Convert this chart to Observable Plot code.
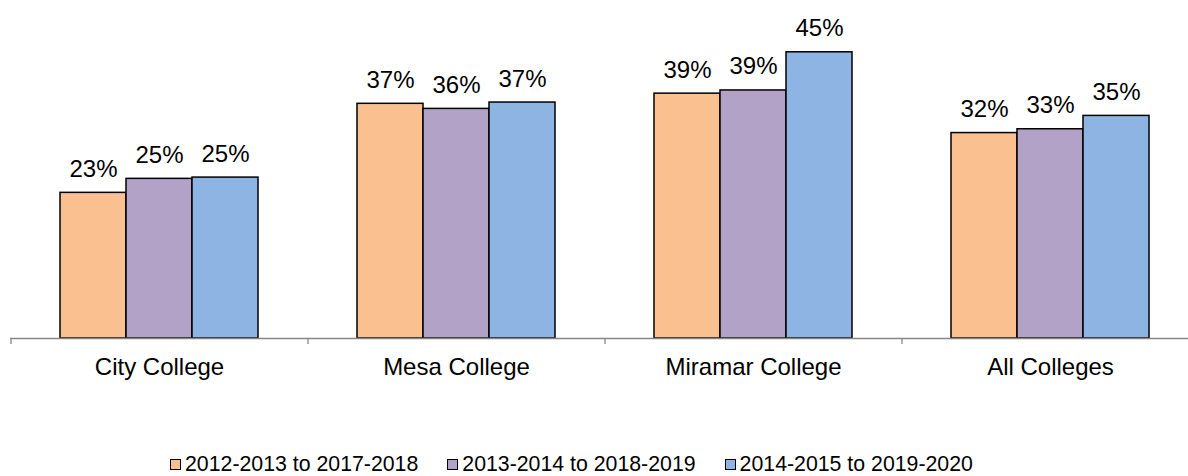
<!DOCTYPE html>
<html>
<head>
<meta charset="utf-8">
<script src="https://cdn.jsdelivr.net/npm/d3@7"></script>
<script src="https://cdn.jsdelivr.net/npm/@observablehq/plot@0.6"></script>
<style>
  html, body { margin: 0; padding: 0; background: #fff; }
  #chart svg { display: block; }
  #legend {
    height: 56px; box-sizing: border-box; padding-top: 33px; padding-left: 170px;
    display: flex; align-items: center; gap: 29px;
    font-family: "Liberation Sans", Arial, sans-serif; font-size: 21.3px; line-height: 1; color: #000;
  }
  .item { display: flex; align-items: center; gap: 4px; white-space: nowrap; }
  .sw { width: 9px; height: 9px; border: 1px solid #000; }
</style>
</head>
<body>
<div id="chart"></div>
<div id="legend"></div>
<script>
const categories = ["City College", "Mesa College", "Miramar College", "All Colleges"];
const seriesNames = ["2012-2013 to 2017-2018", "2013-2014 to 2018-2019", "2014-2015 to 2019-2020"];
const cohort1 = [22.9, 36.9, 38.5, 32.3];
const cohort2 = [25.1, 36.1, 39.0, 32.9];
const cohort3 = [25.3, 37.1, 45.0, 35.0];
const colors = ["#FAC090", "#B3A2C7", "#8EB4E3"];

const seriesValues = [cohort1, cohort2, cohort3];
const rows = [];
seriesValues.forEach((vals, s) => vals.forEach((v, i) => rows.push({category: categories[i], series: seriesNames[s], s, value: v})));

const step = 297;
const bw = step * 2 / 3;
const sub = bw / 3;
const font = "'Liberation Sans', Arial, sans-serif";

const marks = [];
seriesNames.forEach((name, s) => {
  const d = rows.filter(r => r.s === s);
  marks.push(Plot.barY(d, {
    x: "category", y: "value", fill: colors[s], stroke: "#000", strokeWidth: 1.5,
    insetLeft: s * sub, insetRight: (2 - s) * sub
  }));
  marks.push(Plot.text(d, {
    x: "category", y: "value", text: r => Math.round(r.value) + "%",
    dx: (s - 1) * sub, dy: -16, lineAnchor: "bottom", fontSize: 24, fill: "#000"
  }));
});
marks.push(Plot.ruleY([0], {stroke: "#868686", strokeWidth: 1.3}));
marks.push(Plot.ruleX(categories, {x: d => d, dx: -step / 2, y1: 0, y2: 0, insetBottom: -6, stroke: "#868686", strokeWidth: 1.3}));
marks.push(Plot.axisX({tickSize: 0, tickPadding: 19, fontSize: 24, fill: "#000"}));

const chart = Plot.plot({
  width: 1188, height: 420,
  marginTop: 20, marginBottom: 82, marginLeft: 10, marginRight: 0,
  style: {fontFamily: font, fontSize: "24px", background: "#fff", color: "#000"},
  x: {type: "band", domain: categories, range: [10, 10 + 4 * step], paddingInner: 1 / 3, paddingOuter: 1 / 6, label: null},
  y: {domain: [0, 50], axis: null},
  marks
});
document.getElementById("chart").appendChild(chart);

const legend = document.getElementById("legend");
seriesNames.forEach((name, s) => {
  const it = document.createElement("div");
  it.className = "item";
  const sw = document.createElement("span");
  sw.className = "sw";
  sw.style.background = colors[s];
  const t = document.createElement("span");
  t.textContent = name;
  it.appendChild(sw);
  it.appendChild(t);
  legend.appendChild(it);
});
</script>
</body>
</html>
